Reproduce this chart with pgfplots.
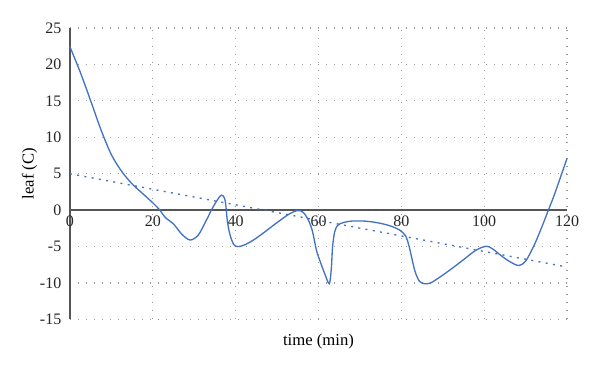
\documentclass[border=0pt]{standalone}
\usepackage{fontspec}
\setmainfont{Liberation Serif}
\usepackage{pgfplots}
\pgfplotsset{compat=1.18}
\definecolor{lineblue}{HTML}{4472C4}
\definecolor{axgray}{HTML}{555555}
\definecolor{gridgray}{HTML}{9A9A9A}
\begin{document}
\begin{tikzpicture}
\useasboundingbox (-52.5pt,-37.9pt) rectangle (397.5pt,239.6pt);
\begin{axis}[
  at={(0,0)}, anchor=south west,
  scale only axis,
  width=372.75pt, height=218.6pt,
  xmin=0, xmax=120, ymin=-15, ymax=25,
  xtick={0,20,...,120}, ytick={-15,-10,...,25},
  axis x line=middle, axis y line=left,
  axis line style={axgray, line width=1.1pt, -},
  hide obscured x ticks=false, hide obscured y ticks=false,
  major tick length=0pt,
  grid=major,
  major grid style={gridgray, line width=0.8pt, dash pattern=on 0.8pt off 5.2pt},
  /pgf/number format/assume math mode=true,
  tick label style={font=\fontsize{12}{14}\selectfont, text=black!85},
  xticklabel style={anchor=north, yshift=-1pt},
  yticklabel style={anchor=east, xshift=-3pt},
  xlabel={time (min)}, ylabel={leaf (C)},
  every axis x label/.style={at={(axis description cs:0.5,0)}, anchor=north, yshift=-7pt, font=\fontsize{12.5}{14}\selectfont},
  every axis y label/.style={at={(axis description cs:0,0.5)}, rotate=90, anchor=south, yshift=21pt, font=\fontsize{12.5}{14}\selectfont},
  clip=false,
]
\addplot[lineblue, line width=1pt, smooth, tension=0.5] coordinates {
(0,22.4) (2.5,18.9) (5,15.0) (7.5,11.0) (10,7.6) (12.5,5.3) (15,3.6) (17.5,2.3) (20,1.0) (21.7,0)
(23,-1.0) (25,-1.9) (27,-3.3) (29,-4.1) (31,-3.4) (33,-1.3) (34.6,0.5) (36.2,1.9) (36.9,2.0) (37.5,1.2)
(38,-1.5) (38.6,-3.3) (39.5,-4.7) (40.5,-5.0) (42,-4.8) (44.3,-4.1) (47,-3.0) (50,-1.7) (53,-0.5) (55,-0.05)
(56.3,-0.3) (57.5,-1.3) (58.5,-2.8) (59.5,-5.5) (60.5,-7.2) (61.5,-8.7) (62.6,-10.1) (63.1,-8) (63.4,-5)
(63.9,-3.0) (64.6,-2.1) (66,-1.7) (68,-1.5) (71,-1.5) (74,-1.7) (77,-2.1) (79.5,-2.7) (81,-3.5) (81.8,-4.8)
(82.5,-6.5) (83.3,-8.4) (84.3,-9.7) (85.5,-10.1) (87,-10.0) (89,-9.3) (92,-8.1) (95,-6.8) (98,-5.5)
(100.5,-4.95) (102,-5.3) (104,-6.2) (106,-7.0) (108.3,-7.6) (110,-7.0) (112,-4.9) (114,-2.2) (115.5,0)
(117,2.2) (120,7.1)
};
\addplot[lineblue, line width=1pt, dash pattern=on 1.5pt off 4pt] coordinates {(0,5.0) (120,-7.8)};
\end{axis}
\end{tikzpicture}
\end{document}
